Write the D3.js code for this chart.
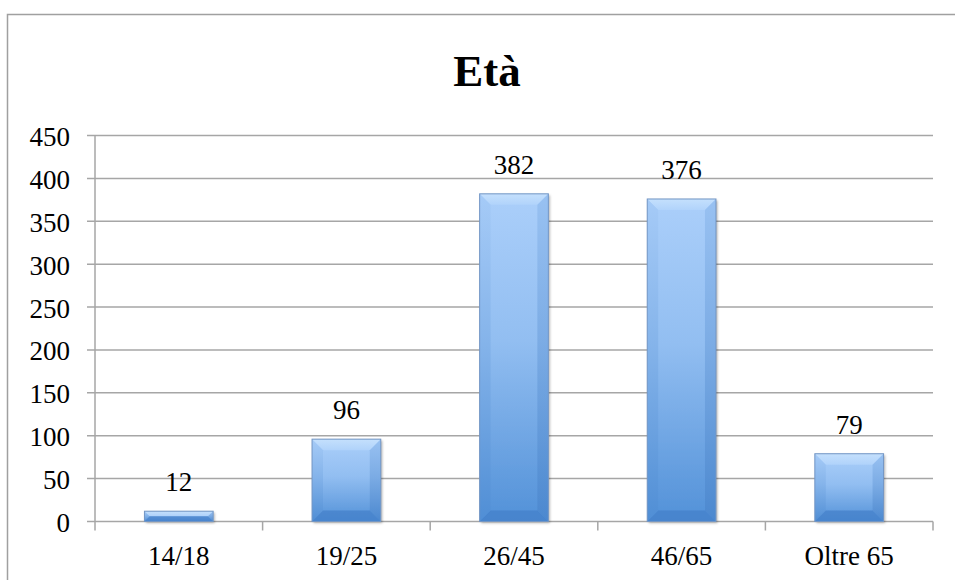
<!DOCTYPE html>
<html>
<head>
<meta charset="utf-8">
<script src="https://cdn.jsdelivr.net/npm/d3@7/dist/d3.min.js"></script>
<style>
  html, body { margin: 0; padding: 0; background: #fff; }
  svg { display: block; }
  text { font-family: "Liberation Serif", "Times New Roman", serif; fill: #000; }
</style>
</head>
<body>
<svg id="chart" width="955" height="580"></svg>
<script>
// Age brackets and respondent counts
const categories = ["14/18", "19/25", "26/45", "46/65", "Oltre 65"];
const counts = [12, 96, 382, 376, 79];
const yTicks = [0, 50, 100, 150, 200, 250, 300, 350, 400, 450];
const title = "Età";

const plot = { left: 95, right: 933, top: 135.5, bottom: 521.5 };

const svg = d3.select("#chart");

// Gradients for the bevelled bars
const defs = svg.append("defs");
const face = defs.append("linearGradient").attr("id", "barFace")
  .attr("x1", 0).attr("y1", 0).attr("x2", 0).attr("y2", 1);
face.append("stop").attr("offset", "0%").attr("stop-color", "#abcffa");
face.append("stop").attr("offset", "45%").attr("stop-color", "#92bef1");
face.append("stop").attr("offset", "100%").attr("stop-color", "#5291d8");

const sideL = defs.append("linearGradient").attr("id", "sideL")
  .attr("x1", 0).attr("y1", 0).attr("x2", 0).attr("y2", 1);
sideL.append("stop").attr("offset", "0%").attr("stop-color", "#a2c8f5");
sideL.append("stop").attr("offset", "100%").attr("stop-color", "#4e8cd3");

const sideR = defs.append("linearGradient").attr("id", "sideR")
  .attr("x1", 0).attr("y1", 0).attr("x2", 0).attr("y2", 1);
sideR.append("stop").attr("offset", "0%").attr("stop-color", "#8cb8ec");
sideR.append("stop").attr("offset", "100%").attr("stop-color", "#4782c9");

const topFacet = defs.append("linearGradient").attr("id", "topFacet")
  .attr("x1", 0).attr("y1", 0).attr("x2", 0).attr("y2", 1);
topFacet.append("stop").attr("offset", "0%").attr("stop-color", "#c9e3fd");
topFacet.append("stop").attr("offset", "100%").attr("stop-color", "#b2d4fb");

const shadow = defs.append("filter").attr("id", "shadow")
  .attr("x", "-20%").attr("y", "-20%").attr("width", "150%").attr("height", "150%");
shadow.append("feDropShadow").attr("dx", 1.5).attr("dy", 1.5).attr("stdDeviation", 1.2)
  .attr("flood-color", "#000").attr("flood-opacity", 0.3);

// Outer chart frame (runs off the right and bottom edges)
svg.append("rect")
  .attr("x", 7.5).attr("y", 14.5).attr("width", 980).attr("height", 620)
  .attr("fill", "none").attr("stroke", "#a0a0a0").attr("stroke-width", 1.5);

// Title
svg.append("text")
  .attr("x", 487).attr("y", 86)
  .attr("text-anchor", "middle")
  .style("font-size", "45px").style("font-weight", "bold")
  .text(title);

// Scales
const x = d3.scaleBand().domain(categories)
  .range([plot.left, plot.right]).paddingInner(0).paddingOuter(0);
const y = d3.scaleLinear().domain([0, 450]).range([plot.bottom, plot.top]);

// Horizontal gridlines
svg.append("g").selectAll("line").data(yTicks).join("line")
  .attr("x1", plot.left - 8).attr("x2", plot.right)
  .attr("y1", d => y(d)).attr("y2", d => y(d))
  .attr("stroke", "#a6a6a6").attr("stroke-width", 1.5);

// Y axis line and labels
svg.append("line")
  .attr("x1", plot.left).attr("x2", plot.left)
  .attr("y1", plot.top).attr("y2", plot.bottom)
  .attr("stroke", "#a6a6a6").attr("stroke-width", 1.5);

svg.append("g").selectAll("text").data(yTicks).join("text")
  .attr("x", 70).attr("y", d => y(d) + 10.5)
  .attr("text-anchor", "end")
  .style("font-size", "27px")
  .text(d => d);

// X axis category separators
const bounds = categories.map(c => x(c)).concat([x(categories[categories.length - 1]) + x.bandwidth()]);
svg.append("g").selectAll("line").data(bounds).join("line")
  .attr("x1", d => d).attr("x2", d => d)
  .attr("y1", plot.bottom).attr("y2", plot.bottom + 9)
  .attr("stroke", "#a6a6a6").attr("stroke-width", 1.5);

svg.append("g").selectAll("text").data(categories).join("text")
  .attr("x", d => x(d) + x.bandwidth() / 2)
  .attr("y", 565)
  .attr("text-anchor", "middle")
  .style("font-size", "27px")
  .text(d => d);

// Bars with bevel facets
const barW = x.bandwidth() * 0.41;
const data = categories.map((c, i) => ({ c, v: counts[i] }));

svg.append("g").selectAll("g").data(data).join("g")
  .each(function (d) {
    const g = d3.select(this);
    const x0 = x(d.c) + (x.bandwidth() - barW) / 2;
    const x1 = x0 + barW;
    const y0 = y(d.v);
    const y1 = y(0);
    const h = y1 - y0;
    const b = Math.min(11, h / 2, barW / 2);

    g.append("rect")
      .attr("x", x0).attr("y", y0).attr("width", barW).attr("height", h)
      .attr("fill", "url(#barFace)").attr("filter", "url(#shadow)");

    // top facet
    g.append("polygon")
      .attr("points", [[x0, y0], [x1, y0], [x1 - b, y0 + b], [x0 + b, y0 + b]].join(" "))
      .attr("fill", "url(#topFacet)").attr("opacity", 0.85);
    // left facet
    g.append("polygon")
      .attr("points", [[x0, y0], [x0 + b, y0 + b], [x0 + b, y1 - b], [x0, y1]].join(" "))
      .attr("fill", "url(#sideL)").attr("opacity", 0.6);
    // right facet
    g.append("polygon")
      .attr("points", [[x1, y0], [x1, y1], [x1 - b, y1 - b], [x1 - b, y0 + b]].join(" "))
      .attr("fill", "url(#sideR)").attr("opacity", 0.6);
    // bottom facet
    g.append("polygon")
      .attr("points", [[x0, y1], [x0 + b, y1 - b], [x1 - b, y1 - b], [x1, y1]].join(" "))
      .attr("fill", "#4480c9").attr("opacity", 0.75);

    g.append("rect")
      .attr("x", x0).attr("y", y0).attr("width", barW).attr("height", h)
      .attr("fill", "none").attr("stroke", "#7396c4").attr("stroke-width", 1);
  });

// Value labels
svg.append("g").selectAll("text").data(data).join("text")
  .attr("x", d => x(d.c) + x.bandwidth() / 2)
  .attr("y", d => y(d.v) - 20)
  .attr("text-anchor", "middle")
  .style("font-size", "27px")
  .text(d => d.v);
</script>
</body>
</html>
